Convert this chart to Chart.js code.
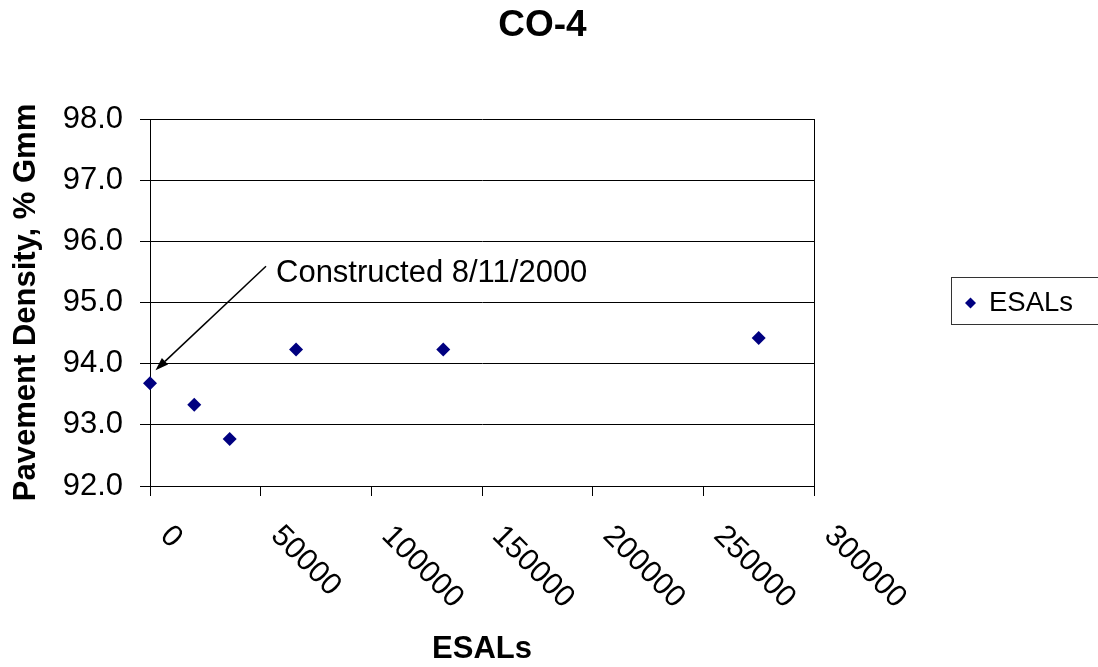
<!DOCTYPE html>
<html>
<head>
<meta charset="utf-8">
<title>CO-4</title>
<script src="https://cdn.jsdelivr.net/npm/chart.js@4.4.0/dist/chart.umd.min.js"></script>
<style>
  html, body { margin: 0; padding: 0; background: #ffffff; }
  canvas { display: block; }
</style>
</head>
<body>
<canvas id="chart" width="1098" height="667"></canvas>
<script>
// Pavement density measured against accumulated ESALs, section CO-4
const chartTitle = 'CO-4';
const seriesName = 'ESALs';
const esals = [0, 20000, 36000, 66000, 132500, 275000];
const density = [93.68, 93.33, 92.77, 94.23, 94.23, 94.42];
const xTickValues = [0, 50000, 100000, 150000, 200000, 250000, 300000];
const yTickValues = [92, 93, 94, 95, 96, 97, 98];
const xAxisTitle = 'ESALs';
const yAxisTitle = 'Pavement Density, % Gmm';
const noteText = 'Constructed 8/11/2000';

const FONT = "'Liberation Sans', Arial, Helvetica, sans-serif";
const MARKER = '#000080';

Chart.defaults.font.family = FONT;
Chart.defaults.color = '#000';

// Title, plot frame, slanted x labels, construction note and boxed legend
const decorations = {
  id: 'decorations',
  afterDraw(chart) {
    const { ctx, chartArea, scales } = chart;
    const xs = scales.x;
    ctx.save();

    // chart title
    ctx.fillStyle = '#000';
    ctx.font = `bold 37px ${FONT}`;
    ctx.textAlign = 'center';
    ctx.textBaseline = 'middle';
    ctx.fillText(chartTitle, 542.5, 26);

    // right edge of the plot frame
    ctx.strokeStyle = '#000';
    ctx.lineWidth = 1;
    ctx.beginPath();
    ctx.moveTo(Math.round(chartArea.right) + 0.5, chartArea.top);
    ctx.lineTo(Math.round(chartArea.right) + 0.5, chartArea.bottom);
    ctx.stroke();

    // x tick labels, slanted downwards to the right
    ctx.font = `30.5px ${FONT}`;
    ctx.textAlign = 'left';
    ctx.textBaseline = 'middle';
    xs.ticks.forEach(t => {
      const px = xs.getPixelForValue(t.value);
      ctx.save();
      ctx.translate(px + 15, chartArea.bottom + 45);
      ctx.rotate(Math.PI / 4);
      ctx.fillText(String(t.label), 0, 0);
      ctx.restore();
    });

    // construction note with arrow to the first reading
    const meta = chart.getDatasetMeta(0);
    const p0 = meta.data[0];
    const tipX = p0.x + 5.5, tipY = p0.y - 13;
    const startX = p0.x + 116, startY = p0.y - 117;
    ctx.strokeStyle = '#000';
    ctx.fillStyle = '#000';
    ctx.lineWidth = 1.5;
    const ang = Math.atan2(tipY - startY, tipX - startX);
    const headLen = 13, headHalf = 4.5;
    const baseX = tipX - headLen * Math.cos(ang);
    const baseY = tipY - headLen * Math.sin(ang);
    ctx.beginPath();
    ctx.moveTo(startX, startY);
    ctx.lineTo(baseX, baseY);
    ctx.stroke();
    ctx.beginPath();
    ctx.moveTo(tipX, tipY);
    ctx.lineTo(baseX + headHalf * Math.sin(ang), baseY - headHalf * Math.cos(ang));
    ctx.lineTo(baseX - headHalf * Math.sin(ang), baseY + headHalf * Math.cos(ang));
    ctx.closePath();
    ctx.fill();

    ctx.font = `31px ${FONT}`;
    ctx.textAlign = 'left';
    ctx.textBaseline = 'alphabetic';
    ctx.fillText(noteText, p0.x + 126, p0.y - 101.5);

    // legend box
    const ds = chart.data.datasets[0];
    ctx.strokeStyle = '#333';
    ctx.lineWidth = 1;
    ctx.strokeRect(951.5, 277.5, 160, 47);
    const lx = 970.5, ly = 303, r = 5.5;
    ctx.fillStyle = ds.backgroundColor;
    ctx.beginPath();
    ctx.moveTo(lx - r, ly);
    ctx.lineTo(lx, ly - r);
    ctx.lineTo(lx + r, ly);
    ctx.lineTo(lx, ly + r);
    ctx.closePath();
    ctx.fill();
    ctx.fillStyle = '#000';
    ctx.font = `27.5px ${FONT}`;
    ctx.textAlign = 'left';
    ctx.textBaseline = 'middle';
    ctx.fillText(ds.label, 989, ly);

    ctx.restore();
  }
};

new Chart(document.getElementById('chart'), {
  type: 'scatter',
  data: {
    datasets: [{
      label: seriesName,
      data: esals.map((x, i) => ({ x, y: density[i] })),
      pointStyle: 'rectRot',
      pointRadius: 7,
      pointHoverRadius: 7,
      backgroundColor: MARKER,
      borderColor: MARKER,
      borderWidth: 0,
      showLine: false,
      clip: false
    }]
  },
  options: {
    responsive: false,
    animation: false,
    devicePixelRatio: 1,
    layout: { padding: { top: 119, left: 0, right: 284, bottom: 0 } },
    plugins: {
      legend: { display: false },
      title: { display: false },
      tooltip: { enabled: false }
    },
    events: [],
    scales: {
      x: {
        type: 'linear',
        min: 0,
        max: 300000,
        afterBuildTicks: s => { s.ticks = xTickValues.map(v => ({ value: v })); },
        afterFit: s => { s.height = 181; },
        grid: { drawOnChartArea: false, drawTicks: true, tickLength: 10, color: '#000', lineWidth: 1 },
        border: { color: '#000', width: 1 },
        ticks: { display: false, callback: v => String(v) },
        title: {
          display: true,
          text: xAxisTitle,
          color: '#000',
          font: { size: 31, weight: 'bold', lineHeight: 1.1 },
          padding: { top: 0, bottom: 0 }
        }
      },
      y: {
        type: 'linear',
        min: 92,
        max: 98,
        afterBuildTicks: s => { s.ticks = yTickValues.map(v => ({ value: v })); },
        afterFit: s => { s.width = 150; },
        grid: { drawOnChartArea: true, drawTicks: true, tickLength: 10, color: '#000', lineWidth: 1 },
        border: { color: '#000', width: 1 },
        ticks: { color: '#000', font: { size: 31 }, padding: 17, callback: v => Number(v).toFixed(1) },
        title: {
          display: true,
          text: yAxisTitle,
          color: '#000',
          font: { size: 31, weight: 'bold', lineHeight: 1.2 },
          padding: { top: 8, bottom: 0 }
        }
      }
    }
  },
  plugins: [decorations]
});
</script>
</body>
</html>
